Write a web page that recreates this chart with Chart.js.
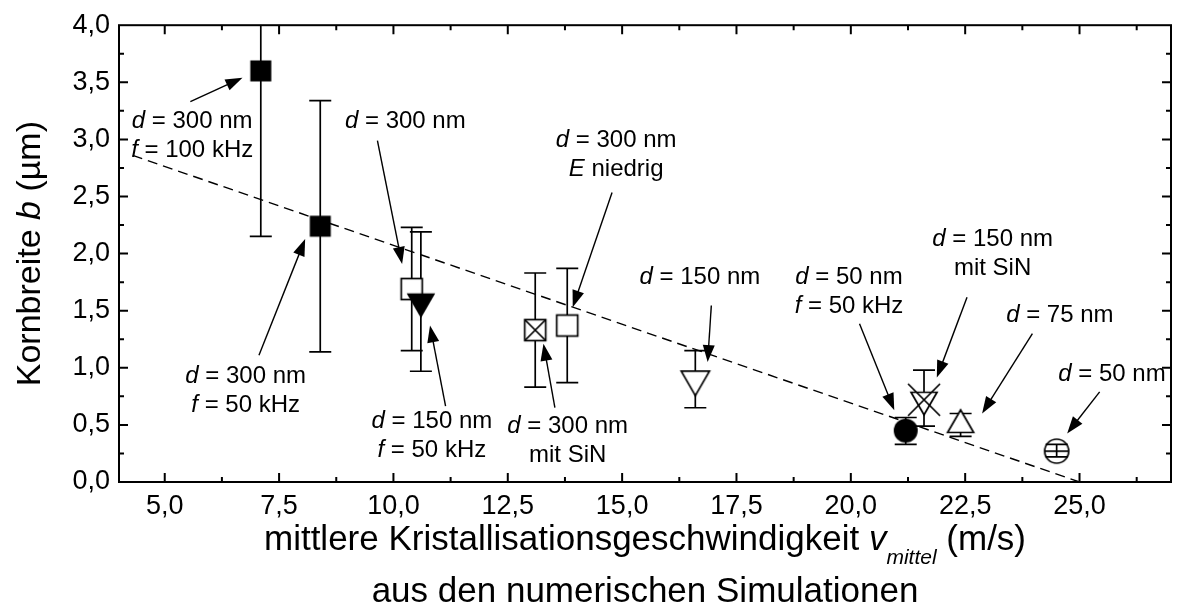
<!DOCTYPE html>
<html>
<head>
<meta charset="utf-8">
<script src="https://cdn.jsdelivr.net/npm/chart.js@4.4.1/dist/chart.umd.min.js"></script>
<style>
  html, body { margin: 0; padding: 0; background: #fff; }
  #wrap { width: 1187px; height: 612px; position: relative; }
</style>
</head>
<body>
<div id="wrap"><canvas id="chart"></canvas></div>
<script>
// mean crystallisation velocity (m/s) and grain width b (µm)
const velocity   = [7.1, 8.4, 10.4, 10.6, 13.1, 13.8, 16.6, 21.2, 21.6, 22.4, 24.5];
const grainWidth = [3.6, 2.24, 1.69, 1.58, 1.33, 1.37, 0.90, 0.45, 0.72, 0.50, 0.27];
const errLow     = [2.15, 1.14, 1.15, 0.97, 0.83, 0.87, 0.65, 0.33, 0.49, 0.40, 0.22];
const errHigh    = [4.40, 3.34, 2.23, 2.19, 1.83, 1.87, 1.15, 0.565, 0.98, 0.60, 0.33];
const symbols    = ['fillSquare', 'fillSquare', 'openSquare', 'fillDown', 'crossSquare', 'openSquare',
                    'openDown', 'fillCircle', 'xTriangle', 'openUp', 'lineCircle'];

// dashed guide line
const trendX = [4.3, 25.0];
const trendY = [2.86, 0.0];

const xTicks = [5, 7.5, 10, 12.5, 15, 17.5, 20, 22.5, 25];
const yTicks = [0, 0.5, 1, 1.5, 2, 2.5, 3, 3.5, 4];

// annotations: text anchor (first line) and arrow, in data units
const notes = [
  { lines: ['_d_ = 300 nm', '_f_ = 100 kHz'], x: 5.60, y: 3.16, from: [5.56, 3.33], to: [6.70, 3.54] },
  { lines: ['_d_ = 300 nm'], x: 10.26, y: 3.16, from: [9.65, 2.99], to: [10.19, 1.91] },
  { lines: ['_d_ = 300 nm', '_E_ niedrig'], x: 14.87, y: 2.99, from: [14.78, 2.535], to: [13.92, 1.53] },
  { lines: ['_d_ = 150 nm'], x: 16.70, y: 1.79, from: [16.95, 1.546], to: [16.87, 1.05] },
  { lines: ['_d_ = 50 nm', '_f_ = 50 kHz'], x: 19.96, y: 1.79, from: [20.19, 1.386], to: [20.95, 0.629] },
  { lines: ['_d_ = 150 nm', 'mit SiN'], x: 23.10, y: 2.128, from: [22.54, 1.618], to: [21.88, 0.914] },
  { lines: ['_d_ = 75 nm'], x: 24.57, y: 1.459, from: [23.97, 1.299], to: [22.87, 0.60] },
  { lines: ['_d_ = 50 nm'], x: 25.71, y: 0.943, from: [25.44, 0.789], to: [24.73, 0.425] },
  { lines: ['_d_ = 300 nm', '_f_ = 50 kHz'], x: 6.77, y: 0.926, from: [7.06, 1.109], to: [8.07, 2.128] },
  { lines: ['_d_ = 150 nm', '_f_ = 50 kHz'], x: 10.84, y: 0.527, from: [11.14, 0.664], to: [10.80, 1.371] },
  { lines: ['_d_ = 300 nm', 'mit SiN'], x: 13.81, y: 0.489, from: [13.53, 0.652], to: [13.28, 1.211] }
];

const FONT = "'Liberation Sans', Arial, sans-serif";
const fmt = v => v.toFixed(1).replace('.', ',');

function makeMarker(kind) {
  const c = document.createElement('canvas');
  c.width = 44; c.height = 44;
  const g = c.getContext('2d');
  g.translate(22, 22);
  g.lineWidth = 1.7;
  g.strokeStyle = '#000';
  g.fillStyle = '#000';
  const s60 = Math.sin(Math.PI / 3);
  const tri = (r, down) => {
    const k = down ? 1 : -1;
    g.beginPath();
    g.moveTo(0, k * r);
    g.lineTo(-r * s60, -k * r / 2);
    g.lineTo(r * s60, -k * r / 2);
    g.closePath();
  };
  const h = 10.5;
  switch (kind) {
    case 'fillSquare':
      g.fillRect(-h, -h, 2 * h, 2 * h);
      break;
    case 'openSquare':
    case 'crossSquare':
      g.fillStyle = '#fff';
      g.fillRect(-h, -h, 2 * h, 2 * h);
      g.strokeRect(-h, -h, 2 * h, 2 * h);
      if (kind === 'crossSquare') {
        g.beginPath();
        g.moveTo(-h, -h); g.lineTo(h, h);
        g.moveTo(h, -h); g.lineTo(-h, h);
        g.stroke();
      }
      break;
    case 'fillDown':
      tri(16.5, true); g.fill();
      break;
    case 'openDown':
      tri(16.3, true); g.fillStyle = '#fff'; g.fill(); g.stroke();
      break;
    case 'openUp':
      tri(15, false); g.fillStyle = '#fff'; g.fill(); g.stroke();
      break;
    case 'xTriangle':
      tri(15, true); g.fillStyle = '#fff'; g.fill(); g.stroke();
      g.beginPath();
      g.moveTo(-16, -16); g.lineTo(16, 16);
      g.moveTo(16, -16); g.lineTo(-16, 16);
      g.stroke();
      break;
    case 'fillCircle':
      g.beginPath(); g.arc(0, 0, 12, 0, Math.PI * 2); g.fill();
      break;
    case 'lineCircle':
      g.beginPath(); g.arc(0, 0, 12, 0, Math.PI * 2); g.stroke();
      g.beginPath(); g.moveTo(-12, 0); g.lineTo(12, 0); g.stroke();
      break;
  }
  return c;
}

// split "_d_ = 300 nm" into italic / upright pieces
function parseRich(str) {
  return str.split('_').map((t, i) => ({ t, i: i % 2 === 1 })).filter(p => p.t);
}

function drawRich(ctx, parts, cx, cy, size) {
  const fontOf = p => (p.i ? 'italic ' : '') + Math.round(p.sub ? size * 0.6 : size) + 'px ' + FONT;
  let total = 0;
  parts.forEach(p => { ctx.font = fontOf(p); total += ctx.measureText(p.t).width; });
  let x = cx - total / 2;
  ctx.textAlign = 'left';
  ctx.textBaseline = 'middle';
  parts.forEach(p => {
    ctx.font = fontOf(p);
    ctx.fillText(p.t, x, cy + (p.sub ? size * 0.52 : 0));
    x += ctx.measureText(p.t).width;
  });
}

function arrow(ctx, x1, y1, x2, y2) {
  const a = Math.atan2(y2 - y1, x2 - x1);
  const len = 17, w = 6;
  ctx.beginPath();
  ctx.moveTo(x1, y1);
  ctx.lineTo(x2 - Math.cos(a) * len * 0.8, y2 - Math.sin(a) * len * 0.8);
  ctx.stroke();
  ctx.beginPath();
  ctx.moveTo(x2, y2);
  ctx.lineTo(x2 - Math.cos(a) * len - Math.sin(a) * w, y2 - Math.sin(a) * len + Math.cos(a) * w);
  ctx.lineTo(x2 - Math.cos(a) * len + Math.sin(a) * w, y2 - Math.sin(a) * len - Math.cos(a) * w);
  ctx.closePath();
  ctx.fill();
}

const errorBars = {
  id: 'errorBars',
  beforeDatasetsDraw(chart) {
    const { ctx, chartArea: a, scales: { x, y } } = chart;
    ctx.save();
    ctx.beginPath();
    ctx.rect(a.left, a.top, a.right - a.left, a.bottom - a.top);
    ctx.clip();
    ctx.strokeStyle = '#000';
    ctx.lineWidth = 1.7;
    velocity.forEach((v, i) => {
      const px = x.getPixelForValue(v);
      const lo = y.getPixelForValue(errLow[i]);
      const hi = y.getPixelForValue(errHigh[i]);
      ctx.beginPath();
      ctx.moveTo(px, lo); ctx.lineTo(px, hi);
      ctx.moveTo(px - 11, lo); ctx.lineTo(px + 11, lo);
      ctx.moveTo(px - 11, hi); ctx.lineTo(px + 11, hi);
      ctx.stroke();
    });
    ctx.restore();
  }
};

const frame = {
  id: 'frame',
  afterDraw(chart) {
    const { ctx, chartArea: a, scales: { x, y } } = chart;
    ctx.save();
    ctx.strokeStyle = '#000';
    ctx.fillStyle = '#000';
    ctx.lineWidth = 2;
    ctx.strokeRect(a.left, a.top, a.right - a.left, a.bottom - a.top);

    // inward ticks on all four sides
    const tick = (vals, len) => {
      ctx.beginPath();
      vals.forEach(v => {
        const px = x.getPixelForValue(v);
        if (px <= a.left + 1 || px >= a.right - 1) return;
        ctx.moveTo(px, a.bottom); ctx.lineTo(px, a.bottom - len);
        ctx.moveTo(px, a.top); ctx.lineTo(px, a.top + len);
      });
      ctx.stroke();
    };
    const tickY = (vals, len) => {
      ctx.beginPath();
      vals.forEach(v => {
        const py = y.getPixelForValue(v);
        if (py <= a.top + 1 || py >= a.bottom - 1) return;
        ctx.moveTo(a.left, py); ctx.lineTo(a.left + len, py);
        ctx.moveTo(a.right, py); ctx.lineTo(a.right - len, py);
      });
      ctx.stroke();
    };
    const xMinor = xTicks.map(v => v + 1.25);
    const yMinor = yTicks.map(v => v + 0.25);
    tick(xTicks, 9); tick(xMinor, 5);
    tickY(yTicks, 9); tickY(yMinor, 5);

    // annotations
    ctx.lineWidth = 1.4;
    notes.forEach(n => {
      const tx = x.getPixelForValue(n.x);
      const ty = y.getPixelForValue(n.y);
      n.lines.forEach((l, k) => drawRich(ctx, parseRich(l), tx, ty + k * 29, 24));
      arrow(ctx, x.getPixelForValue(n.from[0]), y.getPixelForValue(n.from[1]),
                 x.getPixelForValue(n.to[0]), y.getPixelForValue(n.to[1]));
    });

    // axis titles
    const cx = (a.left + a.right) / 2;
    drawRich(ctx, [{ t: 'mittlere Kristallisationsgeschwindigkeit ' }, { t: 'v', i: true },
                   { t: 'mittel', i: true, sub: true }, { t: ' (m/s)' }], cx, a.bottom + 58, 35);
    drawRich(ctx, [{ t: 'aus den numerischen Simulationen' }], cx, a.bottom + 110, 35);
    ctx.translate(31, (a.top + a.bottom) / 2);
    ctx.rotate(-Math.PI / 2);
    drawRich(ctx, [{ t: 'Kornbreite ' }, { t: 'b', i: true }, { t: ' (µm)' }], 0, 0, 34);
    ctx.restore();
  }
};

new Chart(document.getElementById('chart'), {
  type: 'scatter',
  data: {
    datasets: [
      {
        label: 'Kornbreite',
        data: velocity.map((v, i) => ({ x: v, y: grainWidth[i] })),
        pointStyle: symbols.map(makeMarker),
        pointRadius: 15,
        showLine: false
      },
      {
        type: 'line',
        label: 'Trend',
        data: trendX.map((v, i) => ({ x: v, y: trendY[i] })),
        borderColor: '#000',
        borderWidth: 1.4,
        borderDash: [10, 6],
        pointRadius: 0,
        fill: false
      }
    ]
  },
  options: {
    responsive: true,
    maintainAspectRatio: false,
    animation: false,
    layout: { padding: { top: 24, right: 2, left: 0, bottom: 0 } },
    plugins: { legend: { display: false }, tooltip: { enabled: false } },
    scales: {
      x: {
        type: 'linear', min: 4, max: 27,
        afterBuildTicks: s => { s.ticks = xTicks.map(v => ({ value: v })); },
        afterFit: s => { s.height = 130; },
        ticks: { callback: v => fmt(v), color: '#000', font: { family: FONT, size: 27 }, padding: 8, maxRotation: 0, autoSkip: false },
        grid: { display: false, drawTicks: false },
        border: { display: false }
      },
      y: {
        type: 'linear', min: 0, max: 4,
        afterBuildTicks: s => { s.ticks = yTicks.map(v => ({ value: v })); },
        afterFit: s => { s.width = 119; },
        ticks: { callback: v => fmt(v), color: '#000', font: { family: FONT, size: 27 }, padding: 9, autoSkip: false },
        grid: { display: false, drawTicks: false },
        border: { display: false }
      }
    }
  },
  plugins: [errorBars, frame]
});
</script>
</body>
</html>
